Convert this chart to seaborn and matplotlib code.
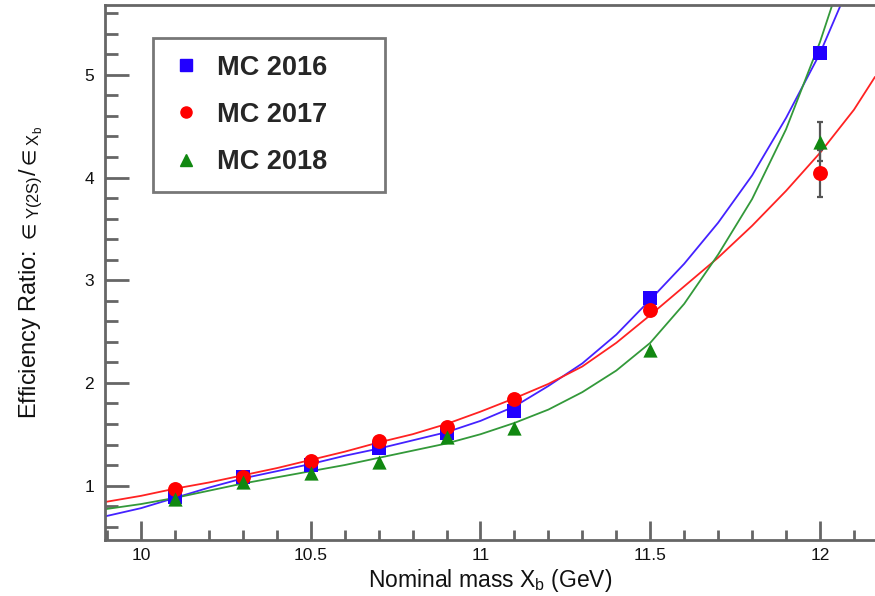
import numpy as np
import pandas as pd
import matplotlib
matplotlib.use("Agg")
import matplotlib.pyplot as plt
from matplotlib.lines import Line2D
from matplotlib.ticker import MultipleLocator
import seaborn as sns

# ---- data ----
masses = [10.1, 10.3, 10.5, 10.7, 10.9, 11.1, 11.5, 12.0]
mc2016 = [0.89, 1.08, 1.20, 1.37, 1.51, 1.73, 2.83, 5.21]
mc2017 = [0.97, 1.08, 1.24, 1.43, 1.57, 1.84, 2.71, 4.04]
mc2018 = [0.87, 1.03, 1.12, 1.23, 1.47, 1.56, 2.32, 4.35]
err2017 = [0, 0, 0, 0, 0, 0, 0, 0.23]
err2018 = [0, 0, 0, 0, 0, 0, 0, 0.19]

fit16_x = [9.894, 10.0, 10.1, 10.2, 10.3, 10.4, 10.5, 10.6, 10.7, 10.8, 10.9, 11.0,
           11.1, 11.2, 11.3, 11.4, 11.5, 11.6, 11.7, 11.8, 11.9, 12.0, 12.07]
fit16_y = [0.70, 0.78, 0.88, 0.98, 1.07, 1.14, 1.21, 1.29, 1.36, 1.44, 1.52, 1.63,
           1.77, 1.97, 2.19, 2.47, 2.81, 3.16, 3.56, 4.02, 4.58, 5.21, 5.75]
fit17_x = [9.894, 10.0, 10.1, 10.2, 10.3, 10.4, 10.5, 10.6, 10.7, 10.8, 10.9, 11.0,
           11.1, 11.2, 11.3, 11.4, 11.5, 11.6, 11.7, 11.8, 11.9, 12.0, 12.1, 12.162]
fit17_y = [0.84, 0.90, 0.97, 1.03, 1.10, 1.17, 1.25, 1.33, 1.42, 1.50, 1.60, 1.72,
           1.85, 1.99, 2.16, 2.39, 2.66, 2.94, 3.22, 3.53, 3.87, 4.24, 4.66, 4.98]
fit18_x = [9.894, 10.0, 10.1, 10.2, 10.3, 10.4, 10.5, 10.6, 10.7, 10.8, 10.9, 11.0,
           11.1, 11.2, 11.3, 11.4, 11.5, 11.6, 11.7, 11.8, 11.9, 12.0, 12.04]
fit18_y = [0.77, 0.82, 0.88, 0.95, 1.02, 1.08, 1.14, 1.20, 1.27, 1.34, 1.41, 1.50,
           1.61, 1.74, 1.91, 2.12, 2.39, 2.77, 3.25, 3.79, 4.47, 5.32, 5.72]

labels = ["MC 2016", "MC 2017", "MC 2018"]
colors = {"MC 2016": "#2200ff", "MC 2017": "#ff0000", "MC 2018": "#118811"}
line_colors = {"MC 2016": "#4422ff", "MC 2017": "#ff2222", "MC 2018": "#33993a"}
markers = {"MC 2016": "s", "MC 2017": "o", "MC 2018": "^"}

pts = pd.DataFrame({
    "mass": masses * 3,
    "ratio": mc2016 + mc2017 + mc2018,
    "sample": [labels[0]] * len(masses) + [labels[1]] * len(masses) + [labels[2]] * len(masses),
})
fits = pd.DataFrame({
    "mass": fit16_x + fit17_x + fit18_x,
    "ratio": fit16_y + fit17_y + fit18_y,
    "sample": [labels[0]] * len(fit16_x) + [labels[1]] * len(fit17_x) + [labels[2]] * len(fit18_x),
})

sns.set_style("ticks")
plt.rcParams["font.family"] = ["Liberation Sans", "DejaVu Sans"]
plt.rcParams["mathtext.fontset"] = "custom"
plt.rcParams["mathtext.rm"] = "Liberation Sans"
plt.rcParams["mathtext.it"] = "Liberation Sans"
plt.rcParams["mathtext.bf"] = "Liberation Sans:bold"
plt.rcParams["mathtext.fallback"] = "stixsans"

fig = plt.figure(figsize=(8.75, 5.96), dpi=100)
ax = fig.add_axes([105 / 875, 1 - 540 / 596, 770 / 875, 535 / 596])

sns.lineplot(data=fits, x="mass", y="ratio", hue="sample", palette=line_colors,
             hue_order=labels, sort=False, estimator=None, lw=1.3, legend=False, ax=ax, zorder=2)

# error bars at 12 GeV
for ys, es in [(mc2017, err2017), (mc2018, err2018)]:
    ax.errorbar([m for m, e in zip(masses, es) if e > 0],
                [y for y, e in zip(ys, es) if e > 0],
                yerr=[e for e in es if e > 0], fmt="none", ecolor="#555555",
                elinewidth=1.6, capsize=2.5, capthick=1.6, zorder=3)

sizes = {"MC 2016": 100, "MC 2017": 115, "MC 2018": 105}
for lab in labels:
    sub = pts[pts["sample"] == lab]
    sns.scatterplot(data=sub, x="mass", y="ratio", color=colors[lab], marker=markers[lab],
                    s=sizes[lab], linewidth=0, ax=ax, zorder=4, legend=False)

ax.set_xlim(9.894, 12.162)
ax.set_ylim(0.47, 5.68)
ax.xaxis.set_major_locator(MultipleLocator(0.5))
ax.xaxis.set_minor_locator(MultipleLocator(0.1))
ax.yaxis.set_major_locator(MultipleLocator(1))
ax.yaxis.set_minor_locator(MultipleLocator(0.2))
ax.set_xticks([10, 10.5, 11, 11.5, 12])
ax.set_xticklabels(["10", "10.5", "11", "11.5", "12"])
ax.set_yticks([1, 2, 3, 4, 5])
ax.set_yticklabels(["1", "2", "3", "4", "5"])

spine_c = "#666666"
for s in ["left", "bottom", "top"]:
    ax.spines[s].set_color(spine_c)
    ax.spines[s].set_linewidth(2)
ax.spines["right"].set_visible(False)
ax.tick_params(axis="both", which="both", direction="in", color=spine_c, width=2,
               labelsize=12.5, labelcolor="#111111")
ax.tick_params(axis="y", which="major", length=17, pad=8)
ax.tick_params(axis="y", which="minor", length=9)
ax.tick_params(axis="x", which="major", length=14, pad=6)
ax.tick_params(axis="x", which="minor", length=7)

ax.set_xlabel(r"Nominal mass X$_\mathrm{b}$ (GeV)", fontsize=16.5, labelpad=3, color="#111111")
ax.set_ylabel(r"Efficiency Ratio: $\in_{\Upsilon(2S)}/\in_{X_{b}}$", fontsize=17,
              labelpad=28, color="#111111")

handles = [Line2D([], [], linestyle="none", marker=markers[l], color=colors[l],
                  markersize=8, label=l) for l in labels]
leg = ax.legend(handles=handles, loc="upper left",
                bbox_to_anchor=((153 - 105) / 770, 1 - (193 - 5) / 535,
                                (385 - 153) / 770, (193 - 38) / 535),
                mode="expand", borderaxespad=0, frameon=True, fancybox=False,
                prop={"family": "Liberation Sans", "weight": "bold", "size": 19.5},
                labelspacing=0.78, borderpad=0.62, handletextpad=0.55, handlelength=1.2)
leg.get_frame().set_edgecolor("#555555")
leg.get_frame().set_linewidth(2)

fig.savefig("out.png", dpi=100)
